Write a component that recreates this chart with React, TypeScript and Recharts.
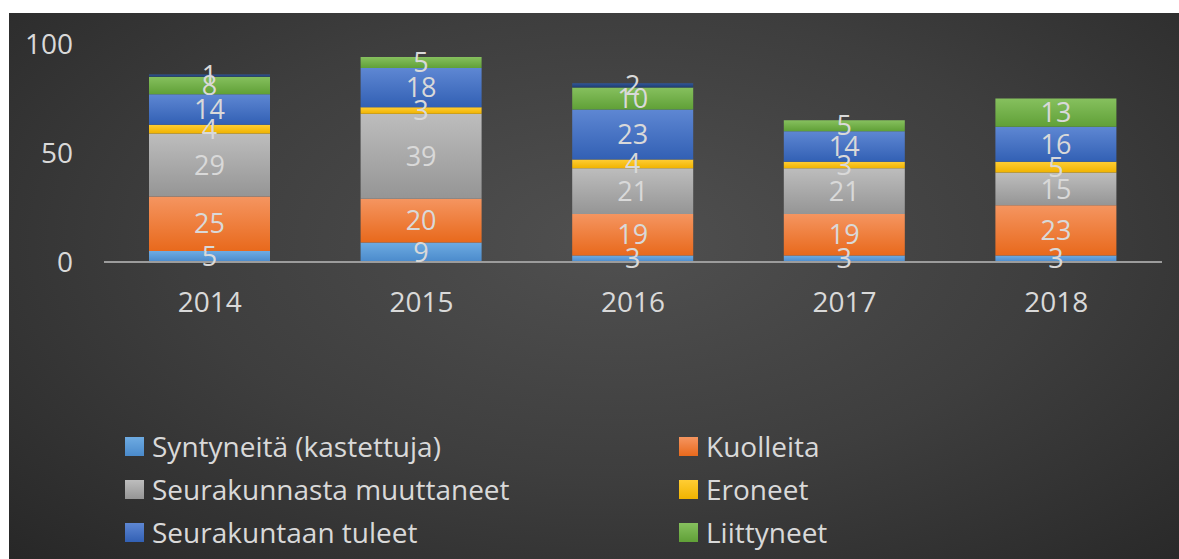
import { BarChart, Bar, XAxis, YAxis, LabelList } from "recharts"

const years = ["2014", "2015", "2016", "2017", "2018"]
const syntyneita = [5, 9, 3, 3, 3]
const kuolleita = [25, 20, 19, 19, 23]
const muuttaneet = [29, 39, 21, 21, 15]
const eroneet = [4, 3, 4, 3, 5]
const tulleet = [14, 18, 23, 14, 16]
const liittyneet = [8, 5, 10, 5, 13]
const muut = [1, null, 2, null, null]
const yTicks = [0, 50, 100]

const series = [
  { key: "syntyneita", name: "Syntyneitä (kastettuja)", values: syntyneita, top: "#6eabe2", bottom: "#4a8acb" },
  { key: "kuolleita", name: "Kuolleita", values: kuolleita, top: "#f59560", bottom: "#e8691c" },
  { key: "muuttaneet", name: "Seurakunnasta muuttaneet", values: muuttaneet, top: "#bdbdbd", bottom: "#959595" },
  { key: "eroneet", name: "Eroneet", values: eroneet, top: "#ffcd34", bottom: "#f0b300" },
  { key: "tulleet", name: "Seurakuntaan tuleet", values: tulleet, top: "#5e87d3", bottom: "#3260b4" },
  { key: "liittyneet", name: "Liittyneet", values: liittyneet, top: "#86c05e", bottom: "#60a037" },
  { key: "muut", name: "", values: muut, top: "#30569a", bottom: "#1f3c6c" },
]

const data = years.map((year, i) => {
  const row: Record<string, string | number | null> = { year }
  series.forEach((s) => {
    row[s.key] = s.values[i]
  })
  return row
})

const textColor = "#d9d9d9"
const font = "'Open Sans', sans-serif"

function LegendBox() {
  const items = series.filter((s) => s.name)
  return (
    <div
      style={{
        position: "absolute",
        left: 116,
        top: 414,
        display: "grid",
        gridTemplateColumns: "554px 400px",
        rowGap: 5,
        fontFamily: font,
        fontSize: 28,
        color: textColor,
      }}
    >
      {items.map((s) => (
        <div key={s.key} style={{ display: "flex", alignItems: "center", height: 38 }}>
          <div
            style={{
              width: 19,
              height: 19,
              marginRight: 8,
              background: `linear-gradient(${s.top}, ${s.bottom})`,
            }}
          />
          <span>{s.name}</span>
        </div>
      ))}
    </div>
  )
}

export default function App() {
  return (
    <div
      style={{
        position: "absolute",
        left: 9,
        top: 13,
        width: 1170,
        height: 546,
        background: "radial-gradient(ellipse 75% 85% at 52% 42%, #505050 0%, #3e3e3e 50%, #262626 100%)",
        overflow: "hidden",
      }}
    >
      <BarChart
        width={1170}
        height={400}
        data={data}
        margin={{ top: 31, right: 17, left: 0, bottom: 0 }}
      >
        <defs>
          {series.map((s) => (
            <linearGradient key={s.key} id={`g-${s.key}`} x1="0" y1="0" x2="0" y2="1">
              <stop offset="0%" stopColor={s.top} />
              <stop offset="100%" stopColor={s.bottom} />
            </linearGradient>
          ))}
        </defs>
        <XAxis
          dataKey="year"
          axisLine={{ stroke: "#9c9c9c", strokeWidth: 2 }}
          tickLine={false}
          tickMargin={24}
          height={151}
          tick={{ fill: textColor, fontSize: 28, fontFamily: font }}
        />
        <YAxis
          domain={[0, 100]}
          ticks={yTicks}
          width={95}
          axisLine={false}
          tickLine={false}
          tickMargin={25}
          tick={{ fill: textColor, fontSize: 28, fontFamily: font }}
        />
        {series.map((s) => (
          <Bar
            key={s.key}
            dataKey={s.key}
            name={s.name}
            stackId="a"
            barSize={121}
            fill={`url(#g-${s.key})`}
            isAnimationActive={false}
          >
            <LabelList
              dataKey={s.key}
              position="center"
              fill={textColor}
              fontSize={27}
              fontFamily={font}
            />
          </Bar>
        ))}
      </BarChart>
      <LegendBox />
    </div>
  )
}
